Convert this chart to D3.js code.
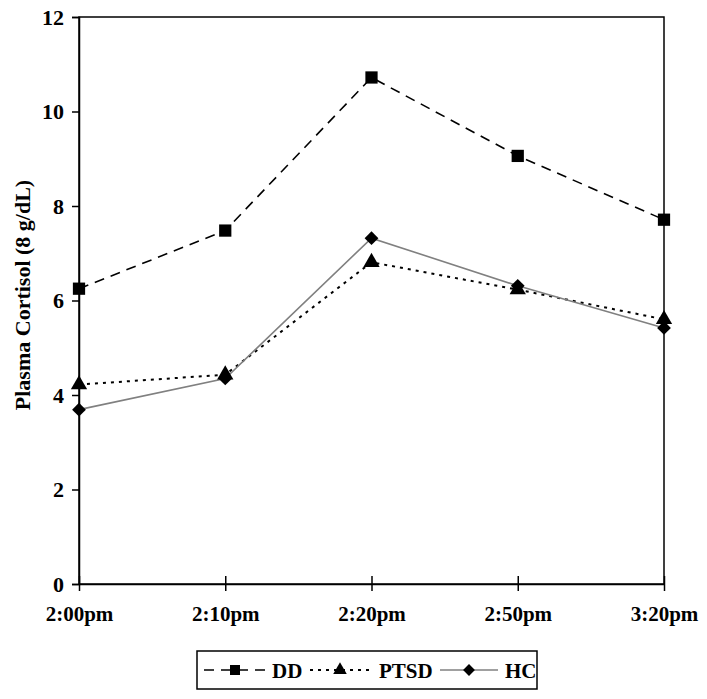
<!DOCTYPE html>
<html><head><meta charset="utf-8">
<script src="https://cdn.jsdelivr.net/npm/d3@7"></script>
<style>body{margin:0;background:#fff}svg{display:block}text{font-family:"Liberation Serif","Times New Roman",serif;font-weight:bold;fill:#000}</style>
</head><body>
<script>
const categories = ["2:00pm","2:10pm","2:20pm","2:50pm","3:20pm"];
const ddValues   = [6.25, 7.48, 10.72, 9.06, 7.71];
const ptsdValues = [4.22, 4.43, 6.81, 6.23, 5.60];
const hcValues   = [3.69, 4.35, 7.32, 6.31, 5.42];
const yTicks = [0,2,4,6,8,10,12];
const seriesNames = ["DD","PTSD","HC"];

const W=707,H=699;
const m={l:79,r:664,t:17,b:584};
const svg=d3.select("body").append("svg").attr("width",W).attr("height",H);
const x=d3.scalePoint().domain(categories).range([m.l,m.r]);
const y=d3.scaleLinear().domain([0,12]).range([m.b,m.t]);

// frame
svg.append("rect").attr("x",m.l).attr("y",m.t).attr("width",m.r-m.l).attr("height",m.b-m.t)
  .attr("fill","none").attr("stroke","#000").attr("stroke-width",1.5);

// y axis
const ya=svg.append("g").attr("transform",`translate(${m.l},0)`)
  .call(d3.axisLeft(y).tickValues(yTicks).tickSize(7).tickPadding(8).tickFormat(d3.format("d")));
ya.select(".domain").attr("stroke-width",1.5);
ya.selectAll(".tick line").attr("stroke-width",1.5);
ya.selectAll("text").style("font-size","22px");

// x axis
const xa=svg.append("g").attr("transform",`translate(0,${m.b})`)
  .call(d3.axisBottom(x).tickSize(0).tickPadding(22));
xa.select(".domain").attr("stroke-width",1.5);
xa.selectAll(".tick").append("line").attr("y1",-8).attr("y2",7).attr("stroke","#000").attr("stroke-width",1.5);
xa.selectAll("text").style("font-size","21px");

// y label
svg.append("text").attr("transform",`translate(30,295) rotate(-90)`)
  .attr("text-anchor","middle").style("font-size","22px").text("Plasma Cortisol (8 g/dL)");

const diamond={draw(ctx,size){const r=Math.sqrt(size/2);ctx.moveTo(0,-r);ctx.lineTo(r,0);ctx.lineTo(0,r);ctx.lineTo(-r,0);ctx.closePath();}};
const series=[
  {name:seriesNames[0],vals:ddValues,color:"#000",dash:"10,7",width:1.6,shape:d3.symbolSquare,size:150,lsize:100},
  {name:seriesNames[1],vals:ptsdValues,color:"#000",dash:"3,5",width:2,shape:d3.symbolTriangle,size:115,lsize:80},
  {name:seriesNames[2],vals:hcValues,color:"#808080",dash:null,width:1.6,shape:diamond,size:95,lsize:70}
];
const line=d3.line().x((d,i)=>x(categories[i])).y(d=>y(d));
series.forEach(s=>{
  svg.append("path").datum(s.vals).attr("d",line).attr("fill","none")
    .attr("stroke",s.color).attr("stroke-width",s.width).attr("stroke-dasharray",s.dash);
});
series.forEach(s=>{
  svg.selectAll(null).data(s.vals).enter().append("path")
    .attr("d",d3.symbol().type(s.shape).size(s.size))
    .attr("transform",(d,i)=>`translate(${x(categories[i])},${y(d)})`).attr("fill","#000");
});

// legend
const lg=svg.append("g");
lg.append("rect").attr("x",197).attr("y",651).attr("width",340).attr("height",38)
  .attr("fill","#fff").attr("stroke","#000").attr("stroke-width",1.5);
const lx=[[204,266,272],[310,370,379],[440,498,505]];
series.forEach((s,i)=>{
  const [a,b,t]=lx[i];
  lg.append("line").attr("x1",a).attr("x2",b).attr("y1",670).attr("y2",670)
    .attr("stroke",s.color).attr("stroke-width",s.width).attr("stroke-dasharray",s.dash);
  lg.append("path").attr("d",d3.symbol().type(s.shape).size(s.lsize)())
    .attr("transform",`translate(${(a+b)/2},670)`).attr("fill","#000");
  lg.append("text").attr("x",t).attr("y",678).style("font-size","21px").text(s.name);
});
</script>
</body></html>
